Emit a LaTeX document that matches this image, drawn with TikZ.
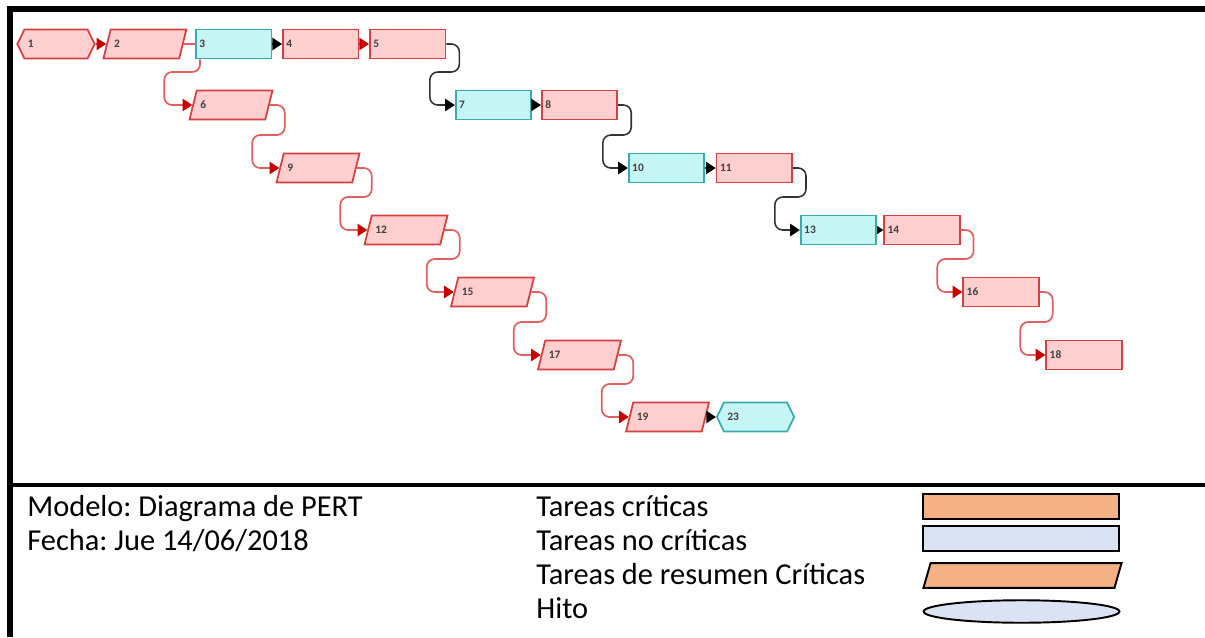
\documentclass[tikz,border=0pt]{standalone}
\usepackage{fontspec}
\setmainfont{Carlito}
\usepackage{xcolor}
\usetikzlibrary{arrows.meta,positioning,shapes.geometric,shapes.symbols,calc}
\definecolor{critfill}{RGB}{255,206,206}
\definecolor{critdraw}{RGB}{214,64,64}
\definecolor{ncfill}{RGB}{198,245,245}
\definecolor{ncdraw}{RGB}{58,170,176}
\definecolor{redline}{RGB}{226,96,96}
\definecolor{redtip}{RGB}{200,0,0}
\definecolor{lgorange}{RGB}{244,177,131}
\definecolor{lgblue}{RGB}{218,227,243}
\frenchspacing

\begin{document}
\begin{tikzpicture}[x=0.02cm, y=-0.02cm,
  base/.style={font=\fontsize{6.5}{6.5}\selectfont\bfseries, text=black!75, text height=4pt, text depth=0pt,
               inner ysep=6.2pt, inner xsep=2pt, align=left, line width=1pt},
  crit/.style={base, rectangle, draw=critdraw, fill=critfill, text width=39pt},
  noncrit/.style={base, rectangle, draw=ncdraw, fill=ncfill, text width=39pt},
  summ/.style={base, trapezium, trapezium left angle=76, trapezium right angle=104,
               draw=critdraw, fill=critfill, text width=35pt},
  endpt/.style={base, signal, signal to=east and west, signal pointer angle=128,
                draw=#1draw, fill=#1fill, text width=32pt},
  redlink/.style={draw=redline, line width=1pt, rounded corners=4.5pt,
                  -{Triangle[length=5.5pt, width=7pt, color=redtip]}},
  blklink/.style={draw=black!80, line width=0.9pt, rounded corners=4.5pt,
                  -{Triangle[length=5.5pt, width=7pt, color=black]}},
  lgtext/.style={font=\fontsize{17.3}{20}\selectfont, anchor=base west, inner sep=0pt},
  lgbox/.style={rectangle, draw=black, line width=1.1pt, minimum width=112pt,
                minimum height=14pt, inner sep=0pt}
]
  \useasboundingbox (0,0) rectangle (1205,637);

  % Frame
  \draw[line width=3.4pt] (10,637) -- (10,9) -- (1205,9);
  \draw[line width=2.8pt] (10,485) -- (1205,485);

  % Row 1
  \node[endpt=crit] (n1) at (56,44) {1};
  \node[summ, right=6pt of n1] (n2) {2};
  \node[noncrit, right=6.5pt of n2] (n3) {3};
  \node[crit, right=5.5pt of n3] (n4) {4};
  \node[crit, right=5.5pt of n4] (n5) {5};

  % Summary chain
  \node[summ] (n6) at (231,105) {6};
  \node[summ] (n9) at (318,168) {9};
  \node[summ] (n12) at (406,230) {12};
  \node[summ] (n15) at (492.5,292) {15};
  \node[summ] (n17) at (579.5,355) {17};
  \node[summ] (n19) at (667.5,417) {19};
  \node[endpt=nc, right=5.5pt of n19] (n23) {23};

  % Right cascade
  \node[noncrit] (n7) at (493.5,105) {7};
  \node[crit, right=5pt of n7] (n8) {8};
  \node[noncrit] (n10) at (666.5,168) {10};
  \node[crit, right=6pt of n10] (n11) {11};
  \node[noncrit] (n13) at (838.5,230) {13};
  \node[crit, right=3.5pt of n13] (n14) {14};
  \node[crit] (n16) at (1001,292) {16};
  \node[crit] (n18) at (1084,355) {18};

  % Links in rows
  \draw[redlink] (n1) -- (n2);
  \draw[draw=redline, line width=1pt] (n2) -- (n3);
  \draw[blklink] (n3) -- (n4);
  \draw[redlink] (n4) -- (n5);
  \draw[blklink] (n7) -- (n8);
  \draw[blklink] (n10) -- (n11);
  \draw[blklink, -{Triangle[length=3.5pt, width=4.5pt, color=black]}] (n13) -- (n14);
  \draw[blklink] (n19) -- (n23);

  % Links down a row
  \draw[redlink] ($(n3.south west)+(5,0)$) |- ($(n6.west)+(-28,-33)$) |- (n6.west);
  \draw[redlink] (n6.east) -- ++(15,0) |- ($(n9.west)+(-27,-33)$) |- (n9.west);
  \draw[redlink] (n9.east) -- ++(15,0) |- ($(n12.west)+(-27,-33)$) |- (n12.west);
  \draw[redlink] (n12.east) -- ++(15,0) |- ($(n15.west)+(-27,-33)$) |- (n15.west);
  \draw[redlink] (n15.east) -- ++(15,0) |- ($(n17.west)+(-27,-33)$) |- (n17.west);
  \draw[redlink] (n17.east) -- ++(15,0) |- ($(n19.west)+(-27,-33)$) |- (n19.west);
  \draw[blklink] (n5.east) -- ++(13,0) |- ($(n7.west)+(-25,-33)$) |- (n7.west);
  \draw[blklink] (n8.east) -- ++(13,0) |- ($(n10.west)+(-25,-33)$) |- (n10.west);
  \draw[blklink] (n11.east) -- ++(13,0) |- ($(n13.west)+(-25,-33)$) |- (n13.west);
  \draw[redlink] (n14.east) -- ++(13,0) |- ($(n16.west)+(-25,-33)$) |- (n16.west);
  \draw[redlink] (n16.east) -- ++(13,0) |- ($(n18.west)+(-25,-33)$) |- (n18.west);

  % Legend
  \node[lgtext] (model) at (27,516) {Modelo: Diagrama de PERT};
  \node[lgtext] (fecha) at (27,550) {Fecha: Jue 14/06/2018};
  \node[lgtext] (tcrit) at (536,516) {Tareas críticas};
  \node[lgtext] (tnoncrit) at (536,550) {Tareas no críticas};
  \node[lgtext] (tsumm) at (536,584) {Tareas de resumen Críticas};
  \node[lgtext] (thito) at (536,618) {Hito};

  \node[lgbox, fill=lgorange] (lgcrit) at (1021,506.5) {};
  \node[lgbox, fill=lgblue] (lgnoncrit) at (1021,538.5) {};
  \node[trapezium, trapezium left angle=74, trapezium right angle=106, draw=black,
        line width=1.1pt, fill=lgorange, inner sep=0pt, text width=104.7pt,
        text height=14pt, text depth=0pt] (lgsumm) at (1022.5,575.5) {};
  \node[ellipse, draw=black, line width=1.1pt, fill=lgblue, inner sep=0pt,
        minimum width=111.5pt, minimum height=12.8pt] (lghito) at (1021.5,611.5) {};
\end{tikzpicture}
\end{document}
